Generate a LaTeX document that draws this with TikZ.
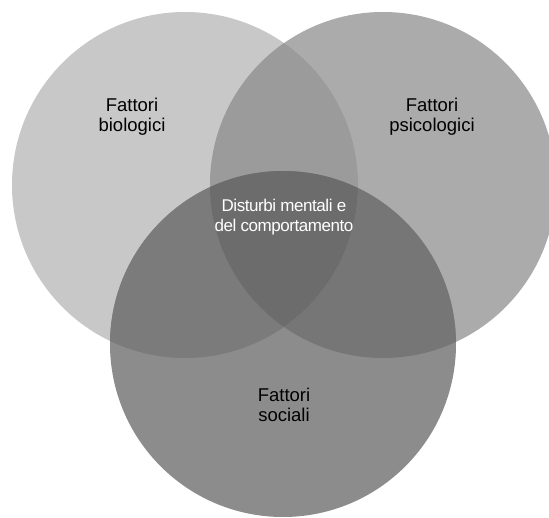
\documentclass[tikz,border=0pt]{standalone}
\usepackage{fontspec}
\setmainfont{Liberation Sans}
\newfontfamily\tightfont[LetterSpace=-2.6]{Liberation Sans}
\definecolor{cL}{HTML}{C8C8C8}
\definecolor{cR}{HTML}{ABABAB}
\definecolor{cB}{HTML}{8C8C8C}
\definecolor{cLR}{HTML}{9B9B9B}
\definecolor{cLB}{HTML}{7B7B7B}
\definecolor{cRB}{HTML}{767676}
\definecolor{cLRB}{HTML}{6C6C6C}
\begin{document}
\begin{tikzpicture}[x=1pt,y=-1pt,
  venn/.style={circle,draw=none,minimum size=346pt,inner sep=0pt},
  label/.style={align=center,inner sep=0pt,font=\fontsize{18.5}{20}\selectfont,text=black},
  centerlabel/.style={align=center,inner sep=0pt,font=\tightfont\fontsize{17}{20}\selectfont,text=white}]
\useasboundingbox (0,0) rectangle (549,518);
\clip (0,0) rectangle (549,518);
\fill[white] (0,0) rectangle (549,518);
\node[venn,fill=cL] (L) at (185,185) {};
\node[venn,fill=cR] (R) at (383,185) {};
\node[venn,fill=cB] (B) at (283,344) {};
\begin{scope}
  \clip (185,185) circle (173pt);
  \fill[cLR] (383,185) circle (173pt);
  \fill[cLB] (283,344) circle (173pt);
  \clip (383,185) circle (173pt);
  \fill[cLRB] (283,344) circle (173pt);
\end{scope}
\begin{scope}
  \clip (383,185) circle (173pt);
  \clip (283,344) circle (173pt);
  \path[clip] (185,185) circle (173pt) (0,0) rectangle (600,600);
  \fill[cRB,even odd rule] (185,185) circle (173pt) (0,0) rectangle (600,600);
\end{scope}
\node[label] (tL) at (132,117) {Fattori\\biologici};
\node[label] (tR) at (432,117) {Fattori\\psicologici};
\node[label] (tB) at (284,405) {Fattori\\sociali};
\node[centerlabel] (tC) at (284,217.5) {Disturbi mentali e\\del comportamento};
\end{tikzpicture}
\end{document}
